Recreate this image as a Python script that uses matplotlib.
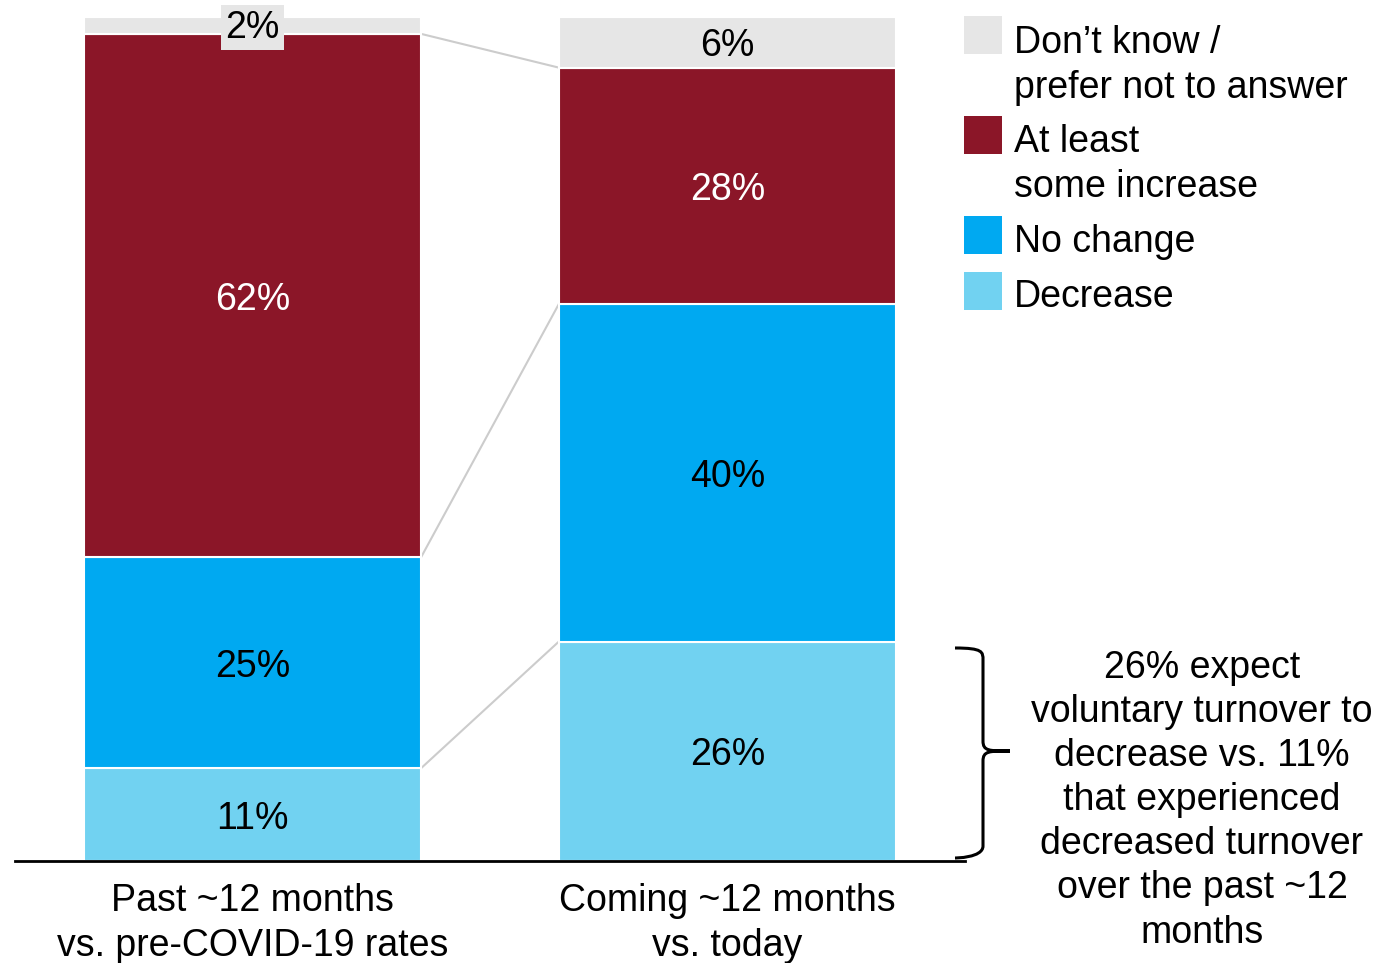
import matplotlib
matplotlib.use("Agg")
import matplotlib.pyplot as plt
from matplotlib.patches import Rectangle, PathPatch
from matplotlib.path import Path
import matplotlib.transforms as mtransforms

plt.rcParams['font.family'] = ['Liberation Sans', 'DejaVu Sans']

categories = ["Past ~12 months\nvs. pre-COVID-19 rates", "Coming ~12 months\nvs. today"]
series = ["Decrease", "No change", "At least\nsome increase", "Don\u2019t know /\nprefer not to answer"]
decrease = [11, 26]
no_change = [25, 40]
increase = [62, 28]
dont_know = [2, 6]
colors = ["#71D2F1", "#00A9F1", "#8B1628", "#E6E6E6"]
label_colors = ["black", "black", "white", "black"]
note = "26% expect\nvoluntary turnover to\ndecrease vs. 11%\nthat experienced\ndecreased turnover\nover the past ~12\nmonths"

W, H = 1376, 963
FS = 27
fig = plt.figure(figsize=(W / 100, H / 100), dpi=100)


def fx(px):
    return px / W


def fy(py):
    return 1 - py / H


# nudge text down a little so digits sit visually centred
down = mtransforms.ScaledTranslation(0, -3 / 72, fig.dpi_scale_trans)

ax = fig.add_axes([fx(15), fy(861), fx(965) - fx(15), fy(17) - fy(861)])
ax.set_xlim(-0.5, 1.5)
ax.set_ylim(0, 100)

x = [0, 1]
width = 0.71
stack = [decrease, no_change, increase, dont_know]
bottoms = [0, 0]
tops = []
for vals, col, tcol in zip(stack, colors, label_colors):
    ax.bar(x, vals, width, bottom=bottoms, color=col, edgecolor="white", linewidth=1.5, zorder=2)
    for xi, v, b in zip(x, vals, bottoms):
        if v <= 2:
            ax.text(xi, b + v / 2 + 0.2, f"{v}%", ha="center", va="center", fontsize=FS,
                    color=tcol, zorder=4, transform=ax.transData + down,
                    bbox=dict(boxstyle="square,pad=0.12", fc=col, ec="none"))
        else:
            ax.text(xi, b + v / 2, f"{v}%", ha="center", va="center", fontsize=FS,
                    color=tcol, zorder=4, transform=ax.transData + down)
    bottoms = [b + v for b, v in zip(bottoms, vals)]
    tops.append(list(bottoms))

# connector lines between the cumulative segment tops
for t in tops[:3]:
    ax.plot([x[0] + width / 2, x[1] - width / 2], [t[0], t[1]], color="#CCCCCC",
            linewidth=1.5, zorder=1)

for s in ["top", "right", "left"]:
    ax.spines[s].set_visible(False)
ax.spines["bottom"].set_linewidth(2)
ax.set_yticks([])
ax.set_xticks(x)
ax.set_xticklabels(categories, fontsize=FS, linespacing=1.3)
ax.tick_params(axis="x", length=0, pad=16)

# legend
legend_rows = [(series[3], colors[3], 16, 61), (series[2], colors[2], 116, 160),
               (series[1], colors[1], 216, 238), (series[0], colors[0], 272, 293)]
for text, col, top, cy in legend_rows:
    fig.add_artist(Rectangle((fx(964), fy(top + 38)), fx(38), fy(top) - fy(top + 38),
                             transform=fig.transFigure, fc=col, ec="none"))
    fig.text(fx(1014), fy(cy), text, fontsize=FS, va="center", ha="left",
             linespacing=1.33, transform=fig.transFigure + down)

# brace
bx0, bx1, tip = 955, 983, 1010
ytop, ymid, ybot = 648, 751, 858
verts = [
    (bx0, ytop), (bx1, ytop), (bx1, ytop + 4), (bx1, ytop + 12),
    (bx1, ymid - 10),
    (bx1, ymid), (bx1 + 6, ymid), (tip, ymid),
    (bx1 + 6, ymid), (bx1, ymid), (bx1, ymid + 10),
    (bx1, ybot - 12),
    (bx1, ybot), (bx0, ybot), (bx0, ybot),
]
codes = [Path.MOVETO, Path.CURVE4, Path.CURVE4, Path.LINETO,
         Path.LINETO,
         Path.CURVE4, Path.CURVE4, Path.CURVE4,
         Path.CURVE4, Path.CURVE4, Path.CURVE4,
         Path.LINETO,
         Path.CURVE4, Path.CURVE4, Path.CURVE4]
verts = [(fx(a), fy(b)) for a, b in verts]
fig.add_artist(PathPatch(Path(verts, codes), transform=fig.transFigure, fill=False,
                         ec="black", lw=2.2))

fig.text(fx(1202), fy(796), note, fontsize=FS, ha="center", va="center", linespacing=1.29,
         transform=fig.transFigure + down)

fig.savefig("out.png", dpi=100)
